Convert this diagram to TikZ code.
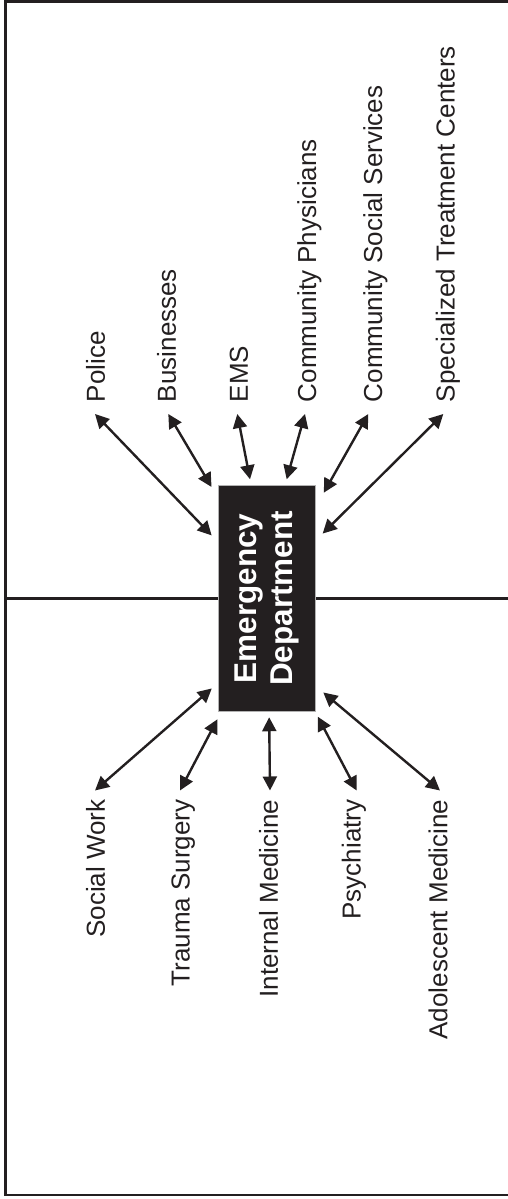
\documentclass[tikz,border=0pt]{standalone}
\usepackage{fontspec}
\setmainfont{Liberation Sans}
\usepackage{graphicx}
\usepackage{tikz}
\usetikzlibrary{arrows.meta}
\definecolor{ink}{HTML}{231F20}

\begin{document}
\begin{tikzpicture}[x=1pt, y=1pt,
  lbl/.style={rotate=90, inner sep=0pt, outer sep=0pt, text=ink, font=\fontsize{26}{31}\selectfont},
  link/.style={draw=ink, line width=2.4pt, {Triangle[length=14pt,width=14pt]}-{Triangle[length=14pt,width=14pt]}},
  rule/.style={draw=ink, line width=2.7pt},
  edbox/.style={fill=ink, draw=gray!60, line width=0.8pt, minimum width=97.2pt, minimum height=226.7pt, inner sep=0pt, outer sep=0pt, text=white, font=\fontsize{31.5}{36}\selectfont\bfseries}]
\useasboundingbox (0,0) rectangle (508,-1199);
\draw[rule] (508,-1.35) -| (5.35,-1195) -- (508,-1195);
\draw[rule] (5.35,-598.4) -- (508,-598.4);
\node[edbox] (ed) at (267.1,-598.4) {\rotatebox{90}{\begin{tabular}{@{}c@{}}Emergency\\Department\end{tabular}}};
% outside partners
\node[lbl, anchor=west] (police) at (95.5,-402) {Police};
\node[lbl, anchor=west] (business) at (166.7,-402) {Businesses};
\node[lbl, anchor=west] (ems) at (238.8,-402) {EMS};
\node[lbl, anchor=west] (commphys) at (309.5,-402) {Community Physicians};
\node[lbl, anchor=west] (commsoc) at (375.3,-402) {Community Social Services};
\node[lbl, anchor=west] (centers) at (448,-402) {Specialized Treatment Centers};
% hospital services
\node[lbl, anchor=east] (socwork) at (95.5,-799.5) {Social Work};
\node[lbl, anchor=east] (trauma) at (183.3,-799.5) {Trauma Surgery};
\node[lbl, anchor=east] (intmed) at (268.5,-799.5) {Internal Medicine};
\node[lbl, anchor=east] (psych) at (354,-799.5) {Psychiatry};
\node[lbl, anchor=east] (adolmed) at (438,-799.5) {Adolescent Medicine};
\draw[link, shorten >=9.9pt] ([shift={(-0.5,-12)}]police.west) -- (ed.131.7);
\draw[link, shorten >=13.7pt] ([shift={(1.6,-12)}]business.west) -- (ed.116.7);
\draw[link, shorten >=5.9pt] ([shift={(-1.5,-12)}]ems.west) -- (ed.98);
\draw[link, shorten >=6pt] ([shift={(-4.5,-12)}]commphys.west) -- (ed.81.9);
\draw[link, shorten >=16.4pt] ([shift={(-7,-12)}]commsoc.west) -- (ed.62.9);
\draw[link, shorten >=9.8pt] ([shift={(-4.7,-12)}]centers.west) -- (ed.50.9);
\draw[link, shorten >=8.9pt] ([shift={(-0.5,9)}]socwork.east) -- (ed.240.7);
\draw[link, shorten >=8.6pt] ([shift={(-3.3,9)}]trauma.east) -- (ed.248.5);
\draw[link, shorten >=5.5pt] ([shift={(1.5,9)}]intmed.east) -- (ed.271.5);
\draw[link, shorten >=5.6pt] ([shift={(2.7,9)}]psych.east) -- (ed.293.2);
\draw[link, shorten >=9.9pt] ([shift={(2,9)}]adolmed.east) -- (ed.299.2);
\end{tikzpicture}
\end{document}
